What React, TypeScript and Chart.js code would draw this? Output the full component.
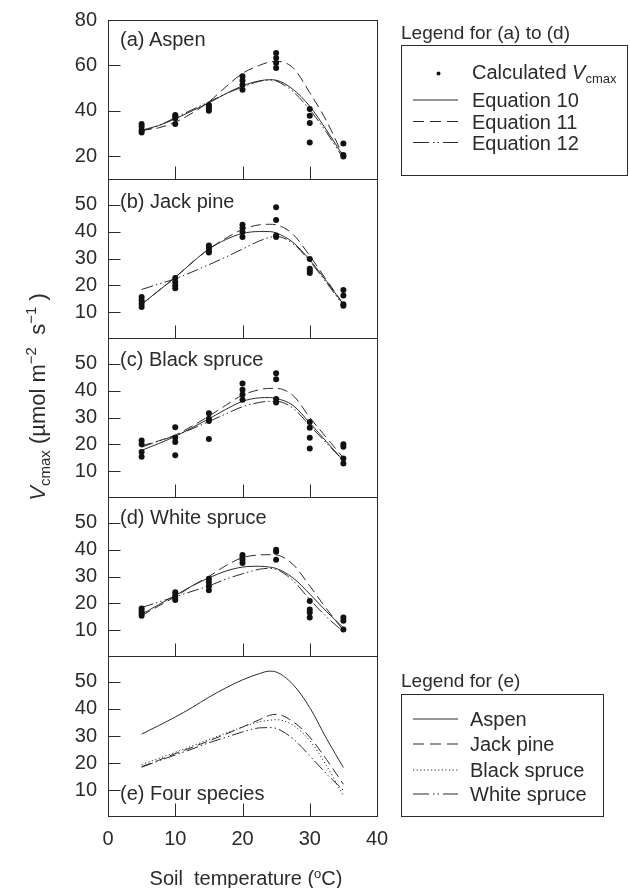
import { useEffect, useRef } from "react";
import { Chart, registerables } from "chart.js";

Chart.register(...registerables);

const FONT = '"Liberation Sans", Arial, Helvetica, sans-serif';
const INK = "#2b2b2b";

// ---------------- data ----------------
const obsTemps = [5, 10, 15, 20, 25, 30, 35];
const curveTemps = [5, 7.5, 10, 12.5, 15, 17.5, 20, 22.5, 24, 25, 27.5, 30, 32.5, 35];
const xTickValues = [0, 10, 20, 30, 40];
const yTicksAspen = [20, 40, 60, 80];
const yTicksOther = [10, 20, 30, 40, 50];

// (a) Aspen
const aspenObs = [
  [30.5, 31.5, 33, 34.2],
  [34.2, 36.8, 37.5, 38.2],
  [40, 41, 42, 42.6],
  [49.3, 51.5, 53.4, 55.2],
  [58.9, 61.1, 63.3, 65.5],
  [26.1, 34.6, 37.8, 40.8],
  [19.9, 20.6, 25.6],
];
const aspenEq10 = [31.5, 33.5, 36.5, 40, 43.5, 47.5, 51, 53.2, 53.7, 53.5, 49.5, 42, 31.5, 20];
const aspenEq11 = [31.5, 32.5, 35, 39, 44, 50.5, 56.5, 60, 61.5, 61.8, 59, 48, 35.5, 20];
const aspenEq12 = [31, 33.5, 37, 40.5, 44, 47.5, 50.5, 53, 53.6, 53.2, 48.5, 40.5, 30.5, 19];

// (b) Jack pine
const jackObs = [
  [12, 13.2, 14.5, 15.7],
  [19, 20.1, 21.3, 22.8],
  [32.2, 33, 33.8, 34.8],
  [38, 39.8, 41.3, 42.5],
  [38, 38.5, 44.3, 49],
  [24.6, 25.5, 26.2, 29.8],
  [12.5, 13, 16.3, 18.3],
];
const jackEq10 = [13, 18, 23, 28.5, 33.5, 37, 39.3, 40, 40, 39.5, 36, 29.5, 21.5, 13];
const jackEq11 = [13, 18, 23, 28.5, 33.5, 37.5, 40.8, 42.5, 42.7, 42.5, 39, 31, 22, 13];
const jackEq12 = [18.5, 20.5, 22.5, 25, 27.7, 30.5, 33.5, 36.5, 37.8, 38.2, 35.5, 29, 21, 12.5];

// (c) Black spruce
const blackObs = [
  [15.4, 17.2, 20.1, 21.5],
  [16, 20.9, 22.5, 26.4],
  [22, 28.7, 29.5, 31.6],
  [36.6, 38.5, 40.3, 42.6],
  [35.6, 36.9, 44.2, 46.4],
  [18.5, 22.5, 26.2, 28.3],
  [12.9, 14.8, 19.1, 20.1],
];
const blackEq10 = [17.8, 20.3, 23, 26.2, 29.5, 33, 36, 37.3, 37.4, 37.1, 34.5, 28, 21, 14];
const blackEq11 = [19.5, 21.3, 23.5, 26.8, 30.5, 34.5, 38.3, 40.3, 40.8, 40.8, 38.2, 30, 22.5, 15];
const blackEq12 = [19, 21.2, 23.3, 25.8, 28.5, 31.3, 34, 35.6, 36, 36, 33.5, 27, 20.5, 14];

// (d) White spruce
const whiteObs = [
  [15.4, 16.4, 17.2, 18.1],
  [21.3, 22.1, 23, 24.2],
  [24.9, 26.4, 27.9, 29.2],
  [35, 36.2, 37.2, 38],
  [36.2, 39.2, 39.9],
  [14.8, 16.6, 17.8, 20.9],
  [10.3, 13.6, 14.8],
];
const whiteEq10 = [16, 19.5, 23, 26.5, 29.5, 32, 33.5, 33.8, 33.5, 33, 29.5, 23.5, 17, 11];
const whiteEq11 = [15.5, 19, 22.5, 26.5, 30, 34, 37, 38, 38.1, 38, 34.5, 26.5, 18, 10];
const whiteEq12 = [18.5, 20.5, 22.5, 24.5, 26.5, 29, 31, 32.7, 33, 32.7, 28.5, 21.5, 15, 9.5];

// (e) Four species
const fourAspen = [30.7, 33.8, 37, 40.5, 44.3, 47.7, 50.7, 53, 53.9, 53.6, 49, 40.5, 29, 18.4];
const fourJack = [18.7, 21, 23.5, 25.8, 28.2, 30.7, 33.3, 36, 37.6, 38, 35.3, 29.6, 21.3, 12.2];
const fourBlack = [19.5, 21.7, 24, 26.3, 28.7, 31, 33.3, 35.2, 35.8, 36, 34, 28.3, 19, 8];
const fourWhite = [18.5, 20.8, 23, 25.2, 27.5, 29.5, 31.5, 33, 33.1, 32.8, 29, 22.7, 16, 10];

// ---------------- styles ----------------
const DASH_SOLID: number[] = [];
const DASH_LONG = [10, 5];
const DASH_DOT = [1.2, 2.4];
const DASH_DASHDOT = [12, 3, 1.5, 3, 1.5, 3];
const LEGEND_DASHDOT = [16, 4, 1.5, 3, 1.5, 4];
const LEGEND_LONG = [11, 6];

type Curve = { values: number[]; dash: number[] };
type PanelDef = {
  key: string;
  top: number;
  bottom: number;
  yMin: number;
  yMax: number;
  yTicks: number[];
  obs?: number[][];
  curves: Curve[];
  showX: boolean;
};

const PANEL_LEFT = 108;
const PANEL_RIGHT = 377;
const CANVAS_W = 400;

const panels: PanelDef[] = [
  {
    key: "a", top: 20, bottom: 179, yMin: 10, yMax: 80, yTicks: yTicksAspen, obs: aspenObs, showX: false,
    curves: [
      { values: aspenEq10, dash: DASH_SOLID },
      { values: aspenEq11, dash: DASH_LONG },
      { values: aspenEq12, dash: DASH_DASHDOT },
    ],
  },
  {
    key: "b", top: 179, bottom: 338, yMin: 0.5, yMax: 59.5, yTicks: yTicksOther, obs: jackObs, showX: false,
    curves: [
      { values: jackEq10, dash: DASH_SOLID },
      { values: jackEq11, dash: DASH_LONG },
      { values: jackEq12, dash: DASH_DASHDOT },
    ],
  },
  {
    key: "c", top: 338, bottom: 497, yMin: 0.5, yMax: 59.5, yTicks: yTicksOther, obs: blackObs, showX: false,
    curves: [
      { values: blackEq10, dash: DASH_SOLID },
      { values: blackEq11, dash: DASH_LONG },
      { values: blackEq12, dash: DASH_DASHDOT },
    ],
  },
  {
    key: "d", top: 497, bottom: 656, yMin: 0.5, yMax: 59.5, yTicks: yTicksOther, obs: whiteObs, showX: false,
    curves: [
      { values: whiteEq10, dash: DASH_SOLID },
      { values: whiteEq11, dash: DASH_LONG },
      { values: whiteEq12, dash: DASH_DASHDOT },
    ],
  },
  {
    key: "e", top: 656, bottom: 816, yMin: 0.5, yMax: 59.5, yTicks: yTicksOther, showX: true,
    curves: [
      { values: fourAspen, dash: DASH_SOLID },
      { values: fourJack, dash: DASH_LONG },
      { values: fourBlack, dash: DASH_DOT },
      { values: fourWhite, dash: DASH_DASHDOT },
    ],
  },
];

const PAD_TOP = 14;

function Panel({ def }: { def: PanelDef }) {
  const ref = useRef<HTMLCanvasElement>(null);
  const h = def.bottom - def.top;
  const padBottom = def.showX ? 46 : 14;
  const canvasH = h + PAD_TOP + padBottom;

  useEffect(() => {
    if (!ref.current) return;
    const datasets: any[] = def.curves.map((c) => ({
      data: curveTemps.map((t, i) => ({ x: t, y: c.values[i] })),
      borderColor: INK,
      borderWidth: 1,
      borderDash: c.dash,
      pointRadius: 0,
      cubicInterpolationMode: "monotone",
      fill: false,
      showLine: true,
      order: 1,
    }));
    if (def.obs) {
      datasets.push({
        data: def.obs.flatMap((vals, i) => vals.map((v) => ({ x: obsTemps[i], y: v }))),
        showLine: false,
        pointRadius: 3,
        pointBackgroundColor: "#111",
        pointBorderWidth: 0,
        order: 0,
      });
    }
    const frame = {
      id: "frame",
      afterDraw(chart: any) {
        const { ctx, chartArea: a, scales } = chart;
        ctx.save();
        ctx.strokeStyle = INK;
        ctx.lineWidth = 1;
        ctx.setLineDash([]);
        const l = Math.round(a.left) + 0.5;
        const t = Math.round(a.top) + 0.5;
        const r = Math.round(a.right) + 0.5;
        const b = Math.round(a.bottom) + 0.5;
        ctx.strokeRect(l, t, r - l, b - t);
        ctx.beginPath();
        def.yTicks.forEach((v) => {
          const y = Math.round(scales.y.getPixelForValue(v)) + 0.5;
          ctx.moveTo(l, y);
          ctx.lineTo(l + 12, y);
        });
        xTickValues
          .filter((v) => v > 0 && v < 40)
          .forEach((v) => {
            const x = Math.round(scales.x.getPixelForValue(v)) + 0.5;
            ctx.moveTo(x, b);
            ctx.lineTo(x, b - 13);
          });
        ctx.stroke();
        ctx.restore();
      },
    };
    const chart = new Chart(ref.current, {
      type: "line",
      data: { datasets },
      options: {
        animation: false,
        responsive: false,
        maintainAspectRatio: false,
        devicePixelRatio: 1,
        events: [],
        layout: {
          padding: {
            left: 0,
            right: CANVAS_W - PANEL_RIGHT,
            top: PAD_TOP,
            bottom: def.showX ? 6 : padBottom,
          },
        },
        plugins: { legend: { display: false }, tooltip: { enabled: false } },
        scales: {
          x: {
            type: "linear",
            min: 0,
            max: 40,
            grid: { display: false, drawTicks: false },
            border: { display: false },
            afterBuildTicks: (ax: any) => {
              ax.ticks = xTickValues.map((v) => ({ value: v }));
            },
            ticks: {
              display: def.showX,
              padding: 11,
              color: INK,
              autoSkip: false,
              maxRotation: 0,
              font: { family: FONT, size: 20 },
            },
            afterFit: (s: any) => {
              s.height = def.showX ? 40 : 0;
              s.paddingLeft = 0;
              s.paddingRight = 0;
              s.paddingTop = 0;
              s.paddingBottom = 0;
            },
          },
          y: {
            type: "linear",
            min: def.yMin,
            max: def.yMax,
            grid: { display: false, drawTicks: false },
            border: { display: false },
            afterBuildTicks: (ax: any) => {
              ax.ticks = def.yTicks.map((v) => ({ value: v }));
            },
            ticks: {
              padding: 11,
              color: INK,
              font: { family: FONT, size: 20 },
            },
            afterFit: (s: any) => {
              s.width = PANEL_LEFT;
              s.paddingLeft = 0;
              s.paddingRight = 0;
              s.paddingTop = 0;
              s.paddingBottom = 0;
            },
          },
        },
      } as any,
      plugins: [frame],
    });
    return () => chart.destroy();
  }, []);

  return (
    <canvas
      ref={ref}
      width={CANVAS_W}
      height={canvasH}
      style={{ position: "absolute", left: 0, top: def.top - PAD_TOP, width: CANVAS_W, height: canvasH }}
    />
  );
}

const panelLabels = [
  { text: "(a) Aspen", y: 39 },
  { text: "(b) Jack pine", y: 201 },
  { text: "(c) Black spruce", y: 359 },
  { text: "(d) White spruce", y: 517 },
  { text: "(e) Four species", y: 793 },
];

const legendEqEntries = [
  { text: "Equation 10", y: 100, dash: DASH_SOLID },
  { text: "Equation 11", y: 121.5, dash: LEGEND_LONG },
  { text: "Equation 12", y: 142.5, dash: LEGEND_DASHDOT },
];
const legendSpeciesEntries = [
  { text: "Aspen", y: 719, dash: DASH_SOLID },
  { text: "Jack pine", y: 744, dash: LEGEND_LONG },
  { text: "Black spruce", y: 770, dash: DASH_DOT },
  { text: "White spruce", y: 794, dash: LEGEND_DASHDOT },
];

const textAt = (left: number, y: number, size = 20): any => ({
  position: "absolute",
  left,
  top: y,
  transform: "translateY(-50%)",
  fontSize: size,
  lineHeight: 1,
  whiteSpace: "nowrap",
});

export default function App() {
  return (
    <div
      style={{
        position: "absolute",
        left: 0,
        top: 0,
        width: 630,
        height: 888,
        background: "#fff",
        fontFamily: FONT,
        color: INK,
        overflow: "hidden",
      }}
    >
      {panels.map((p) => (
        <Panel key={p.key} def={p} />
      ))}

      {panelLabels.map((l) => (
        <div key={l.text} style={textAt(120, l.y, 20)}>
          {l.text}
        </div>
      ))}

      <svg width={630} height={888} style={{ position: "absolute", left: 0, top: 0, pointerEvents: "none" }}>
        <rect x={401.5} y={45.5} width={226} height={130} fill="none" stroke={INK} strokeWidth={1} />
        <circle cx={438.5} cy={73.5} r={2} fill="#111" />
        {legendEqEntries.map((e) => (
          <line key={e.text} x1={413} x2={458} y1={e.y} y2={e.y} stroke={INK} strokeWidth={1}
            strokeDasharray={e.dash.length ? e.dash.join(" ") : undefined} />
        ))}
        <rect x={401.5} y={694.5} width={202} height={122} fill="none" stroke={INK} strokeWidth={1} />
        {legendSpeciesEntries.map((e) => (
          <line key={e.text} x1={413} x2={458} y1={e.y} y2={e.y} stroke={INK} strokeWidth={1}
            strokeDasharray={e.dash.length ? e.dash.join(" ") : undefined} />
        ))}
      </svg>

      <div style={textAt(401, 31.5, 19)}>Legend for (a) to (d)</div>
      <div style={textAt(472, 71.5, 20)}>
        Calculated <i>V</i>
        <span style={{ fontSize: 13, position: "relative", top: 4 }}>cmax</span>
      </div>
      {legendEqEntries.map((e) => (
        <div key={e.text} style={textAt(472, e.y, 20)}>
          {e.text}
        </div>
      ))}

      <div style={textAt(401, 680, 19)}>Legend for (e)</div>
      {legendSpeciesEntries.map((e) => (
        <div key={e.text} style={textAt(470, e.y, 20)}>
          {e.text}
        </div>
      ))}

      <div
        style={{
          position: "absolute",
          left: 38,
          top: 397,
          transform: "translate(-50%, -50%) rotate(-90deg)",
          fontSize: 22,
          lineHeight: 1,
          whiteSpace: "pre",
        }}
      >
        <i>V</i>
        <span style={{ fontSize: 15, position: "relative", top: 5 }}>cmax</span>
        {" (\u00b5mol m"}
        <span style={{ fontSize: 15, position: "relative", top: -9 }}>{"\u22122"}</span>
        {"  s"}
        <span style={{ fontSize: 15, position: "relative", top: -9 }}>{"\u22121"}</span>
        {" )"}
      </div>

      <div
        style={{
          position: "absolute",
          left: 246,
          top: 878,
          transform: "translate(-50%, -50%)",
          fontSize: 20,
          lineHeight: 1,
          whiteSpace: "pre",
        }}
      >
        {"Soil  temperature ("}
        <span style={{ fontSize: 13, position: "relative", top: -7 }}>o</span>
        {"C)"}
      </div>
    </div>
  );
}
